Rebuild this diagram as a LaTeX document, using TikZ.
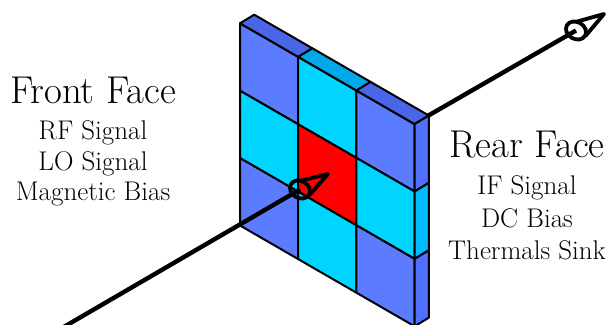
\documentclass[tikz,border=0pt]{standalone}
\usetikzlibrary{calc}
\definecolor{fblue}{HTML}{5C7CFF}
\definecolor{fcyan}{HTML}{00D5FF}
\definecolor{tblue}{HTML}{4A66E6}
\definecolor{tcyan}{HTML}{00A8E8}
\definecolor{rblue}{HTML}{506FFF}
\definecolor{rcyan}{HTML}{00BBFF}
\tikzset{
  cell/.style={draw=black,line width=2pt,line join=round},
  axisline/.style={draw=black,line width=4.4pt},
  ring/.style={draw=black,line width=3.8pt},
  cone/.style={draw=black,line width=3.8pt,line join=round},
  bigtext/.style={inner sep=0pt,font=\fontsize{38.8}{38.8}\selectfont},
  smalltext/.style={inner sep=0pt,font=\fontsize{27}{27}\selectfont},
}
\begin{document}
\begin{tikzpicture}[x=1pt,y=-1pt]
\useasboundingbox (0,0) rectangle (607,324);
\clip (0,0) rectangle (607,324);
\coordinate (o) at (240,23.3);
\coordinate (ex) at (58.2,33.6);
\coordinate (ey) at (0,67.4);
\coordinate (ed) at (14.2,-8.6);
% rear axis
\coordinate (rearRing) at (576,30.5);
\coordinate (rearTip) at (604,14);
\coordinate (frontStart) at (62,328);
\coordinate (frontRing) at (300,189.5);
\coordinate (frontTip) at (328,174);
\draw[axisline] (frontRing) -- (rearRing);
% plate
\foreach \i/\j/\c in {0/0/fblue,1/0/fcyan,2/0/fblue,0/1/fcyan,1/1/red,2/1/fcyan,0/2/fblue,1/2/fcyan,2/2/fblue}{
  \draw[cell,fill=\c] ($(o)+\i*(ex)+\j*(ey)$) -- ($(o)+\i*(ex)+\j*(ey)+(ex)$) -- ($(o)+\i*(ex)+\j*(ey)+(ex)+(ey)$) -- ($(o)+\i*(ex)+\j*(ey)+(ey)$) -- cycle;
}
\foreach \i/\c in {0/tblue,1/tcyan,2/tblue}{
  \draw[cell,fill=\c] ($(o)+\i*(ex)$) -- ($(o)+\i*(ex)+(ex)$) -- ($(o)+\i*(ex)+(ex)+(ed)$) -- ($(o)+\i*(ex)+(ed)$) -- cycle;
}
\foreach \j/\c in {0/rblue,1/rcyan,2/rblue}{
  \draw[cell,fill=\c] ($(o)+3*(ex)+\j*(ey)$) -- ($(o)+3*(ex)+\j*(ey)+(ey)$) -- ($(o)+3*(ex)+\j*(ey)+(ey)+(ed)$) -- ($(o)+3*(ex)+\j*(ey)+(ed)$) -- cycle;
}
% front axis and markers
\draw[axisline] (frontStart) -- (frontRing);
\foreach \r/\t in {frontRing/frontTip,rearRing/rearTip}{
  \draw[ring,rotate around={-30:(\r)}] (\r) ellipse [x radius=10.5,y radius=8.5];
  \draw[cone] ($(\r)+(-0.5,-8.5)$) -- (\t) -- ($(\r)+(9.5,5.5)$);
}
% text
\node[bigtext] (ff) at (93,90) {Front Face};
\node[smalltext] (f1) at (93,133) {RF Signal};
\node[smalltext] (f2) at (93,163.5) {LO Signal};
\node[smalltext] (f3) at (93,194) {Magnetic Bias};
\node[bigtext] (rf) at (527,145) {Rear Face};
\node[smalltext] (r1) at (527,188) {IF Signal};
\node[smalltext] (r2) at (527,218.5) {DC Bias};
\node[smalltext] (r3) at (527,250) {Thermals Sink};
\end{tikzpicture}
\end{document}
